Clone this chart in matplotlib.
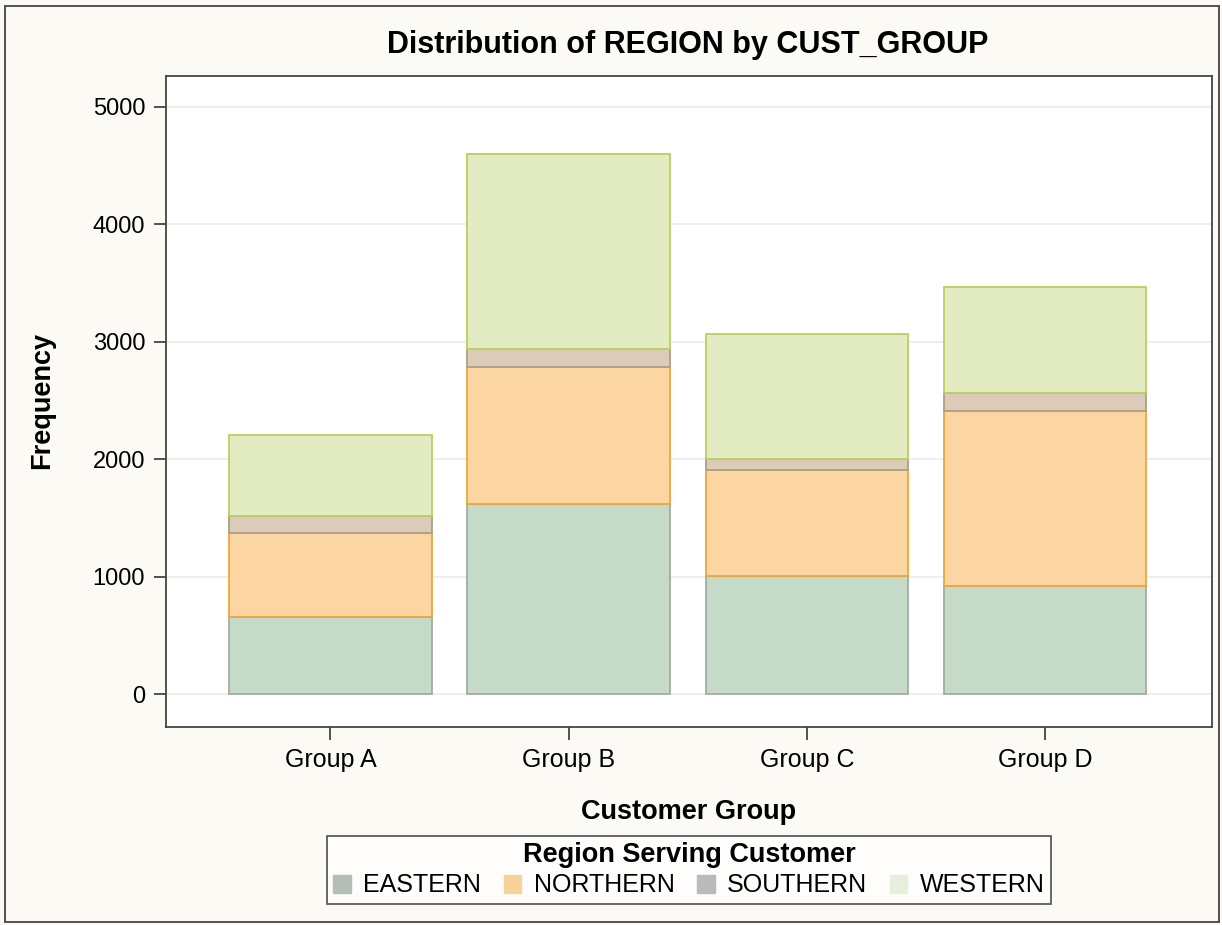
import matplotlib
matplotlib.use("Agg")
import matplotlib.pyplot as plt
from matplotlib.patches import Rectangle, Patch
import numpy as np

# data
groups = ["Group A", "Group B", "Group C", "Group D"]
regions = ["EASTERN", "NORTHERN", "SOUTHERN", "WESTERN"]
eastern = [657, 1616, 1007, 922]
northern = [713, 1169, 902, 1492]
southern = [142, 151, 91, 152]
western = [690, 1667, 1064, 902]

fills = ["#c6dac8", "#fbd6a2", "#dccbb8", "#e3ebc2"]
edges = ["#a3aca3", "#eda63a", "#ad9f84", "#bccf5c"]
legend_fills = ["#b4beb4", "#f7d39c", "#bababa", "#e6eedc"]

plt.rcParams["font.family"] = ["Liberation Sans", "DejaVu Sans"]

W, H = 1222, 925
fig = plt.figure(figsize=(W / 100, H / 100), dpi=100)
fig.patch.set_facecolor("#fcfaf4")

# outer frame
fig.patches.append(Rectangle((5 / W, 3 / H), 1214 / W, 916 / H, transform=fig.transFigure,
                             fill=False, edgecolor="#444444", linewidth=1.3))

ax_l, ax_r, ax_t, ax_b = 166, 1212, 76, 727
ax = fig.add_axes([ax_l / W, 1 - ax_b / H, (ax_r - ax_l) / W, (ax_b - ax_t) / H])
ax.set_facecolor("white")

x = np.arange(len(groups))
series = [eastern, northern, southern, western]
bottom = np.zeros(len(groups))
for vals, fc, ec in zip(series, fills, edges):
    ax.bar(x, vals, width=0.85, bottom=bottom, color=fc, edgecolor=ec, linewidth=1.3, zorder=3)
    bottom += np.array(vals)

ax.set_xlim(-0.69, 3.70)
ax.set_ylim(-281, 5264)
ax.set_yticks(np.arange(0, 5001, 1000))
ax.set_xticks(x)
ax.set_xticklabels(groups, fontsize=18)
ax.yaxis.grid(True, color="#eeeeee", linewidth=1.5, zorder=0)
ax.tick_params(axis="both", direction="out", length=9, width=1.3, color="#444444",
               labelsize=17, pad=6)
ax.tick_params(axis="x", labelsize=18)
for s in ax.spines.values():
    s.set_color("#444444")
    s.set_linewidth(1.3)

fig.text(688 / W, 1 - 45 / H, "Distribution of REGION by CUST_GROUP", ha="center", va="center",
         fontsize=22, fontweight="bold")
fig.text(42 / W, 1 - 400 / H, "Frequency", rotation=90, ha="center", va="center",
         fontsize=19.5, fontweight="bold")
fig.text(689 / W, 1 - 812 / H, "Customer Group", ha="center", va="center",
         fontsize=19.5, fontweight="bold")

handles = [Patch(facecolor=c, edgecolor=c) for c in legend_fills]
leg = fig.legend(handles, regions, loc="center", bbox_to_anchor=(689 / W, 1 - 870 / H),
                 ncol=4, title="Region Serving Customer", fontsize=18, frameon=True,
                 fancybox=False, edgecolor="#333333", handlelength=0.7, handleheight=0.7,
                 handletextpad=0.5, columnspacing=0.9, borderpad=0.25, labelspacing=0.2)
leg.get_title().set_fontweight("bold")
leg.get_title().set_fontsize(19.5)
leg.get_frame().set_linewidth(1.3)

fig.savefig("out.png", dpi=100, facecolor=fig.get_facecolor())
